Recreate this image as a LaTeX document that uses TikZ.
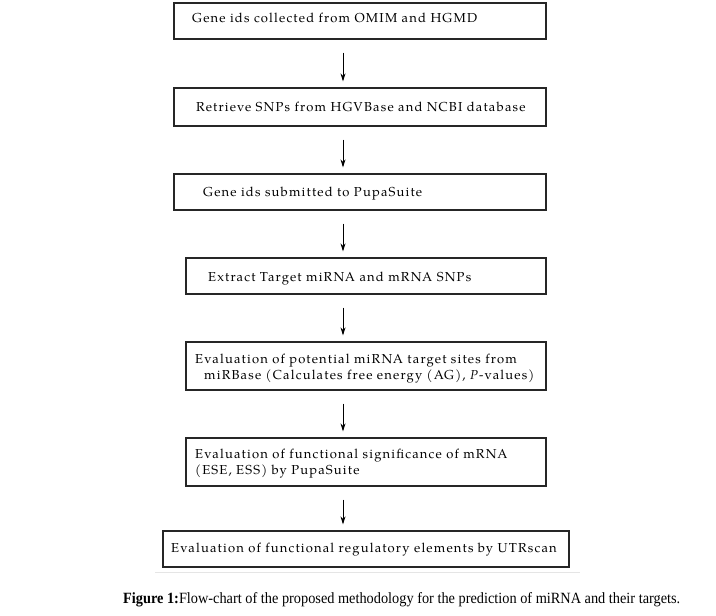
\documentclass[tikz,border=0pt]{standalone}
\usepackage{fontspec}
\setmainfont{texgyrepagella}[Extension=.otf,UprightFont=*-regular,ItalicFont=*-italic,BoldFont=*-bold,BoldItalicFont=*-bolditalic,LetterSpace=9]
\newfontfamily\capfont{Liberation Serif}
\usetikzlibrary{arrows.meta,calc}
\begin{document}
\begin{tikzpicture}[x=1pt,y=-1pt,
  box/.style={draw=black!85,line width=1.2pt,inner sep=0pt},
  txt/.style={anchor=base west,inner sep=0pt,font=\fontsize{13}{20}\selectfont},
  arr/.style={line width=0.9pt,-{Stealth[length=8pt,width=5pt]}}]
\useasboundingbox (0,0) rectangle (716,616);
\fill[white] (0,0) rectangle (716,616);
\coordinate (ax) at (343,0);
% boxes
\node[box,minimum width=372pt,minimum height=36pt] (b1) at (360,21) {};
\node[box,minimum width=372pt,minimum height=38pt] (b2) at (360,107) {};
\node[box,minimum width=372pt,minimum height=36pt] (b3) at (360,192) {};
\node[box,minimum width=360pt,minimum height=36pt] (b4) at (366,276) {};
\node[box,minimum width=360pt,minimum height=48pt] (b5) at (366,366) {};
\node[box,minimum width=360pt,minimum height=48pt] (b6) at (366,462) {};
\node[box,minimum width=406pt,minimum height=36pt] (b7) at (366,549) {};
% texts
\node[txt] (t1) at (192,22) {Gene ids collected from OMIM and HGMD};
\node[txt] (t2) at (196,111) {Retrieve SNPs from HGVBase and NCBI database};
\node[txt] (t3) at (203,196) {Gene ids submitted to PupaSuite};
\node[txt] (t4) at (208,281) {Extract Target miRNA and mRNA SNPs};
\node[txt] (t5a) at (195,363) {Evaluation of potential miRNA target sites from};
\node[txt] (t5b) at (204,379) {miRBase (Calculates free energy (AG), \textit{P}-values)};
\node[txt] (t6a) at (195,458) {Evaluation of functional significance of mRNA};
\node[txt] (t6b) at (195,474) {(ESE, ESS) by PupaSuite};
\node[txt] (t7) at (171,552) {Evaluation of functional regulatory elements by UTRscan};
% faint rule
\draw[black!10,line width=0.8pt] (155,572) -- (580,572);
% arrows
\foreach \a/\b in {b1/b2,b2/b3,b3/b4,b4/b5,b5/b6,b6/b7}{
  \draw[arr] ($(\a.south -| ax)+(0,-13pt)$) -- ($(\b.north -| ax)+(0,6pt)$);
}
% caption
\node[anchor=base west,inner sep=0pt] (cap) at (123,603)
  {\resizebox{557pt}{11pt}{\capfont\textbf{Figure 1:}Flow-chart of the proposed methodology for the prediction of miRNA and their targets.}};
\end{tikzpicture}
\end{document}
